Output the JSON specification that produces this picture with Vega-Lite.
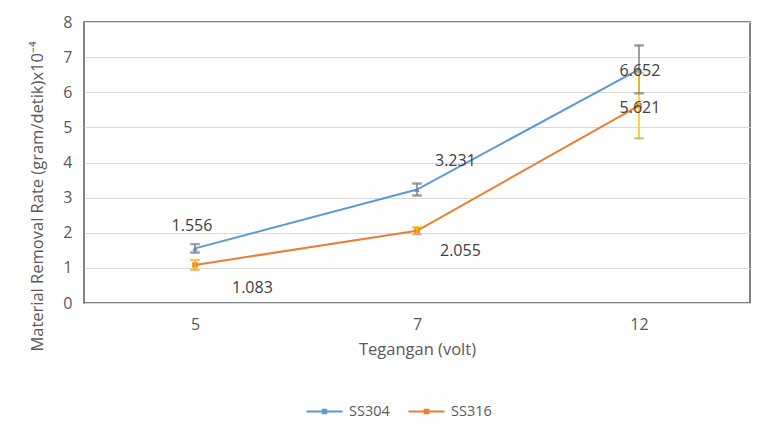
{
  "$schema": "https://vega.github.io/schema/vega-lite/v6.json",
  "width": 666,
  "height": 281,
  "autosize": {"type": "none"},
  "padding": {"left": 84, "top": 22, "right": 7, "bottom": 121},
  "background": "white",
  "config": {
    "font": "Open Sans",
    "view": {"stroke": "#595959", "strokeWidth": 1.5},
    "axis": {"labelColor": "#595959", "titleColor": "#595959", "labelFont": "Open Sans", "titleFont": "Open Sans", "labelFontSize": 16, "titleFontSize": 16.5, "titleFontWeight": "normal"},
    "legend": {"labelColor": "#595959", "labelFont": "Open Sans", "labelFontSize": 14.5}
  },
  "data": {
    "values": [
      {"Tegangan": "5", "Material": "SS304", "MRR": 1.556, "lo": 1.436, "hi": 1.676},
      {"Tegangan": "7", "Material": "SS304", "MRR": 3.231, "lo": 3.061, "hi": 3.401},
      {"Tegangan": "12", "Material": "SS304", "MRR": 6.652, "lo": 5.97, "hi": 7.334},
      {"Tegangan": "5", "Material": "SS316", "MRR": 1.083, "lo": 0.943, "hi": 1.223},
      {"Tegangan": "7", "Material": "SS316", "MRR": 2.055, "lo": 1.955, "hi": 2.155},
      {"Tegangan": "12", "Material": "SS316", "MRR": 5.621, "lo": 4.69, "hi": 6.552}
    ]
  },
  "encoding": {
    "x": {
      "field": "Tegangan", "type": "ordinal", "sort": ["5", "7", "12"],
      "scale": {"type": "point", "padding": 0.5},
      "axis": {"title": "Tegangan (volt)", "labelAngle": 0, "domain": false, "ticks": false, "grid": false, "labelPadding": 13, "titlePadding": 9}
    },
    "y": {
      "field": "MRR", "type": "quantitative",
      "scale": {"domain": [0, 8], "nice": false},
      "axis": {"title": "Material Removal Rate (gram/detik)x10⁻⁴", "values": [0, 1, 2, 3, 4, 5, 6, 7, 8], "domain": false, "ticks": false, "grid": true, "gridColor": "#d9d9d9", "gridWidth": 1, "labelPadding": 12, "titlePadding": 17, "titleY": 174}
    }
  },
  "layer": [
    {
      "mark": {"type": "line", "strokeWidth": 2},
      "encoding": {
        "color": {
          "field": "Material", "type": "nominal",
          "scale": {"domain": ["SS304", "SS316"], "range": ["#5B9BD5", "#ED7D31"]},
          "legend": {"title": null, "orient": "none", "legendX": 221, "legendY": 370, "direction": "horizontal", "symbolType": "M-1,0H1M-0.1,-0.1H0.1V0.1H-0.1Z", "symbolSize": 1300, "symbolStrokeWidth": 2, "labelOffset": 5, "columnPadding": 14}
        }
      }
    },
    {
      "transform": [{"filter": "datum.Material === 'SS304'"}],
      "mark": {"type": "point", "filled": true, "size": 30, "opacity": 1, "shape": "triangle-up", "color": "#5B9BD5"}
    },
    {
      "transform": [{"filter": "datum.Material === 'SS316'"}],
      "mark": {"type": "point", "filled": true, "size": 30, "opacity": 1, "shape": "square", "color": "#ED7D31"}
    },
    {
      "mark": {"type": "rule", "strokeWidth": 1.5},
      "encoding": {
        "y": {"field": "lo", "type": "quantitative"},
        "y2": {"field": "hi"},
        "stroke": {"field": "Material", "type": "nominal", "scale": {"domain": ["SS304", "SS316"], "range": ["#808080", "#FFC000"]}, "legend": null}
      }
    },
    {
      "mark": {"type": "tick", "orient": "horizontal", "size": 9, "thickness": 1.5},
      "encoding": {
        "y": {"field": "lo", "type": "quantitative"},
        "stroke": {"field": "Material", "type": "nominal", "legend": null}
      }
    },
    {
      "mark": {"type": "tick", "orient": "horizontal", "size": 9, "thickness": 1.5},
      "encoding": {
        "y": {"field": "hi", "type": "quantitative"},
        "stroke": {"field": "Material", "type": "nominal", "legend": null}
      }
    },
    {
      "transform": [{"filter": "datum.Material === 'SS304' && datum.Tegangan === '5'"}],
      "mark": {"type": "text", "fontSize": 16, "color": "#404040", "align": "center", "baseline": "middle", "dx": -3, "dy": -22},
      "encoding": {"text": {"field": "MRR", "type": "quantitative", "format": ".3f"}}
    },
    {
      "transform": [{"filter": "datum.Material === 'SS304' && datum.Tegangan === '7'"}],
      "mark": {"type": "text", "fontSize": 16, "color": "#404040", "align": "left", "baseline": "middle", "dx": 18, "dy": -29},
      "encoding": {"text": {"field": "MRR", "type": "quantitative", "format": ".3f"}}
    },
    {
      "transform": [{"filter": "datum.Tegangan === '12'"}],
      "mark": {"type": "text", "fontSize": 16, "color": "#404040", "align": "center", "baseline": "middle", "dx": 1, "dy": 2},
      "encoding": {"text": {"field": "MRR", "type": "quantitative", "format": ".3f"}}
    },
    {
      "transform": [{"filter": "datum.Material === 'SS316' && datum.Tegangan === '5'"}],
      "mark": {"type": "text", "fontSize": 16, "color": "#404040", "align": "left", "baseline": "middle", "dx": 37, "dy": 23},
      "encoding": {"text": {"field": "MRR", "type": "quantitative", "format": ".3f"}}
    },
    {
      "transform": [{"filter": "datum.Material === 'SS316' && datum.Tegangan === '7'"}],
      "mark": {"type": "text", "fontSize": 16, "color": "#404040", "align": "left", "baseline": "middle", "dx": 23, "dy": 20},
      "encoding": {"text": {"field": "MRR", "type": "quantitative", "format": ".3f"}}
    }
  ]
}
